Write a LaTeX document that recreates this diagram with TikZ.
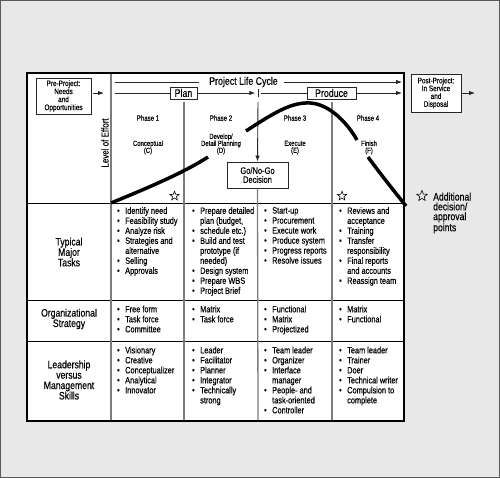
\documentclass[tikz,border=0pt]{standalone}
\usepackage{fontspec}
\setmainfont{Liberation Sans}[FakeStretch=0.8,FakeBold=0.3]
\usetikzlibrary{shapes.geometric,arrows.meta}
\definecolor{bg}{RGB}{232,232,232}
\definecolor{divg}{RGB}{125,125,125}
\newcommand\bu{\makebox[8pt][l]{\raisebox{0.3pt}{\scalebox{0.95}{\textbullet}}}}
\newcommand\nb{\hspace*{8pt}}
\begin{document}
\begin{tikzpicture}[x=1pt,y=-1pt,
  thinln/.style={line width=0.9pt, black!85},
  arr/.style={thinln,-{Latex[length=6pt,width=4.5pt]}},
  divv/.style={line width=1.3pt, divg},
  divh/.style={line width=0.8pt, black},
  box/.style={draw=black!85, line width=0.9pt, fill=white, inner sep=0pt, align=center},
  hdr/.style={font=\fontsize{11}{11}\selectfont, inner sep=0pt},
  lst/.style={anchor=north west, inner sep=0pt, align=left, font=\fontsize{9.2}{10}\selectfont},
  rowlab/.style={align=center, inner sep=0pt, font=\fontsize{10.8}{10.4}\selectfont},
  phase/.style={inner sep=0pt, font=\fontsize{7.6}{8}\selectfont},
  stage/.style={align=center, inner sep=0pt, font=\fontsize{7.4}{7}\selectfont},
  starmark/.style={star, star points=5, star point ratio=2.3, draw=black, line width=0.6pt, inner sep=0pt, minimum size=9.5pt},
  effort/.style={line width=3.5pt, line cap=butt}
]
\useasboundingbox (0,0) rectangle (500,478);
% background
\fill[bg] (0,0) rectangle (500,478);
\draw[line width=1pt, black!65] (0.5,0.5) rectangle (499.5,477.5);
% table
\fill[white] (27,73) rectangle (404,421);
% horizontal row lines
\draw[divh] (27,203) -- (404,203);
\draw[divh] (27,300) -- (404,300);
\draw[divh] (27,341) -- (404,341);
% vertical dividers
\draw[divv] (111,73) -- (111,421);
\draw[divv] (184,102) -- (184,421);
\draw[divv] (332,102) -- (332,421);

% header
\node[hdr] (plc) at (243.5,82) {Project Life Cycle};
\coordinate (lcA) at (115,82);
\coordinate (lcB) at (402,82);
\draw[thinln] (lcA) -- ([xshift=-10pt]plc.west);
\draw[arr] ([xshift=6pt]plc.east) -- (lcB);

\node[box, hdr, draw=black!85, minimum width=27pt, minimum height=12pt] (plan) at (183.5,93) {Plan};
\node[box, hdr, draw=black!85, minimum width=49pt, minimum height=12pt] (produce) at (331.5,93) {Produce};
\node[inner sep=0pt, minimum width=5pt, minimum height=8pt] (tick) at (258,93) {};
\draw[thinln] (tick.north) -- (tick.south);
\coordinate (lA) at (115,93);
\coordinate (lB) at (402,93);
\draw[thinln] (lA) -- (plan.west);
\draw[arr] (plan.east) -- (tick.west);
\draw[thinln] (tick.east) -- (produce.west);
\draw[arr] (produce.east) -- (lB);

% pre / post project
\node[box, minimum width=55pt, minimum height=36pt, font=\fontsize{8}{8}\selectfont] (pre) at (63.5,96) {Pre-Project:\\Needs\\and\\Opportunities};
\coordinate (preA) at (104,93);
\draw[arr] (pre.east |- preA) ++(2pt,0) -- (preA);
\node[box, minimum width=50pt, minimum height=38pt, font=\fontsize{8}{7.8}\selectfont] (post) at (436,93) {Post-Project:\\In Service\\and\\Disposal};
\coordinate (postA) at (475,93);
\draw[arr] (post.east |- postA) -- (postA);

% level of effort
\node[rotate=90, inner sep=0pt, font=\fontsize{10}{10}\selectfont] (loe) at (105,143) {Level of Effort};

% phases
\node[phase] (p1) at (148,118) {Phase 1};
\node[phase] (p2) at (221,118) {Phase 2};
\node[phase] (p3) at (295,118) {Phase 3};
\node[phase] (p4) at (368,118) {Phase 4};
\node[stage] (s1) at (148,147.5) {Conceptual\\(C)};
\node[stage] (s2) at (221,144) {Develop/\\Detail Planning\\(D)};
\node[stage] (s3) at (295,147.5) {Execute\\(E)};
\node[stage] (s4) at (369,147.5) {Finish\\(F)};

% go / no-go
\node[box, minimum width=61pt, minimum height=26pt, font=\fontsize{9.4}{9}\selectfont] (go) at (257.5,175) {Go/No-Go\\Decision};
\coordinate (goT) at (258,102);
\coordinate (goB) at (258,421);
\draw[arr] (goT) -- (go.north);
\draw[divv] (go.south) -- (goB);

% effort curve
\draw[effort] (111,203) .. controls (150,187) and (185,172) .. (208,157);
\draw[effort] (246,131) .. controls (275,112) and (292,102) .. (310,103)
   .. controls (330,104) and (348,124) .. (357,140);
\draw[effort] (368,157) .. controls (382,176) and (394,191) .. (406,206);

% stars
\node[starmark] (st1) at (174.5,196) {};
\node[starmark] (st2) at (342,196) {};
\node[starmark, minimum size=11pt] (st3) at (422,196) {};
\node[anchor=north west, inner sep=0pt, align=left, font=\fontsize{10.8}{9.8}\selectfont] (leg) at (433,192.5) {Additional\\decision/\\approval\\points};

% row labels
\node[rowlab] (r1) at (69,252) {Typical\\Major\\Tasks};
\node[rowlab] (r2) at (69,319) {Organizational\\Strategy};
\node[rowlab] (r3) at (69,380) {Leadership\\versus\\Management\\Skills};

% tasks
\node[lst] (t1) at (117,207) {\bu Identify need\\\bu Feasibility study\\\bu Analyze risk\\\bu Strategies and\\\nb alternative\\\bu Selling\\\bu Approvals};
\node[lst] (t2) at (192,207) {\bu Prepare detailed\\\nb plan (budget,\\\bu schedule etc.)\\\bu Build and test\\\nb prototype (if\\\nb needed)\\\bu Design system\\\bu Prepare WBS\\\bu Project Brief};
\node[lst] (t3) at (264,207) {\bu Start-up\\\bu Procurement\\\bu Execute work\\\bu Produce system\\\bu Progress reports\\\bu Resolve issues};
\node[lst] (t4) at (339,207) {\bu Reviews and\\\nb acceptance\\\bu Training\\\bu Transfer\\\nb responsibility\\\bu Final reports\\\nb and accounts\\\bu Reassign team};

% organizational strategy
\node[lst] (o1) at (117,305.5) {\bu Free form\\\bu Task force\\\bu Committee};
\node[lst] (o2) at (192,305.5) {\bu Matrix\\\bu Task force};
\node[lst] (o3) at (264,305.5) {\bu Functional\\\bu Matrix\\\bu Projectized};
\node[lst] (o4) at (339,305.5) {\bu Matrix\\\bu Functional};

% leadership
\node[lst] (m1) at (117,346.5) {\bu Visionary\\\bu Creative\\\bu Conceptualizer\\\bu Analytical\\\bu Innovator};
\node[lst] (m2) at (192,346.5) {\bu Leader\\\bu Facilitator\\\bu Planner\\\bu Integrator\\\bu Technically\\\nb strong};
\node[lst] (m3) at (264,346.5) {\bu Team leader\\\bu Organizer\\\bu Interface\\\nb manager\\\bu People- and\\\nb task-oriented\\\bu Controller};
\node[lst] (m4) at (339,346.5) {\bu Team leader\\\bu Trainer\\\bu Doer\\\bu Technical writer\\\bu Compulsion to\\\nb complete};

% outer table border
\draw[line width=2pt, black] (27,73) rectangle (404,421);
\end{tikzpicture}
\end{document}
